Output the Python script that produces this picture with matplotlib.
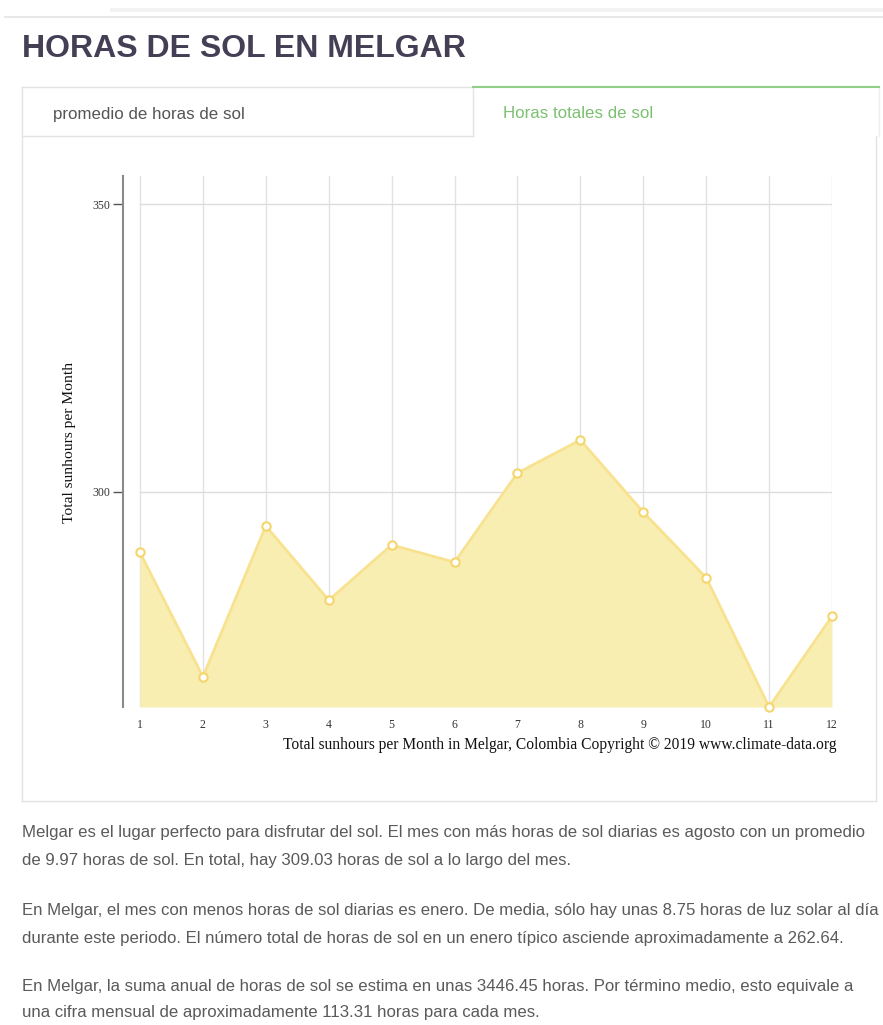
import matplotlib
matplotlib.use("Agg")
import matplotlib.pyplot as plt
from matplotlib.lines import Line2D
from matplotlib.patches import Rectangle

W, H = 883, 1025

months = list(range(1, 13))
sunhours = [289.5, 267.9, 294.1, 281.2, 290.8, 287.8, 303.3, 309.03, 296.5, 285.1, 262.64, 278.4]
y_ticks = [300, 350]
y_top = 354.9

title = "HORAS DE SOL EN MELGAR"
tab_left = "promedio de horas de sol"
tab_right = "Horas totales de sol"
y_label = "Total sunhours per Month"
x_label = "Total sunhours per Month in Melgar, Colombia Copyright \u00a9 2019 www.climate-data.org"
paragraphs = [
    "Melgar es el lugar perfecto para disfrutar del sol. El mes con más horas de sol diarias es agosto con un promedio",
    "de 9.97 horas de sol. En total, hay 309.03 horas de sol a lo largo del mes.",
    "En Melgar, el mes con menos horas de sol diarias es enero. De media, sólo hay unas 8.75 horas de luz solar al día",
    "durante este periodo. El número total de horas de sol en un enero típico asciende aproximadamente a 262.64.",
    "En Melgar, la suma anual de horas de sol se estima en unas 3446.45 horas. Por término medio, esto equivale a",
    "una cifra mensual de aproximadamente 113.31 horas para cada mes.",
]


def fx(x):
    return x / W


def fy(y):
    return 1 - y / H


fig = plt.figure(figsize=(W / 100, H / 100), dpi=100)
renderer = fig.canvas.get_renderer()


def fit_text(x, y, s, length, **kw):
    t = fig.text(fx(x), fy(y), s, **kw)
    box = t.get_window_extent(renderer)
    size = box.height if kw.get("rotation") == 90 else box.width
    t.set_fontsize(t.get_fontsize() * length / size)
    return t


def hline(x0, x1, y, color, lw=1.0):
    fig.add_artist(Line2D([fx(x0), fx(x1)], [fy(y), fy(y)], color=color, lw=lw,
                          transform=fig.transFigure))


def vline(x, y0, y1, color, lw=1.0):
    fig.add_artist(Line2D([fx(x), fx(x)], [fy(y0), fy(y1)], color=color, lw=lw,
                          transform=fig.transFigure))


# page decoration at the top
fig.add_artist(Rectangle((fx(110), fy(12)), fx(883) - fx(110), fy(8) - fy(12),
                         transform=fig.transFigure, color="#f2f2f2", lw=0))
hline(5, 883, 17, "#e8e8e8", 1.5)

fit_text(22, 49, title, 443, fontsize=20, fontweight="bold", color="#453f55",
         family="Liberation Sans", va="center")

# tab box
hline(22, 876, 801, "#e3e3e3")
vline(22, 87, 801, "#e3e3e3")
vline(876, 136, 801, "#e3e3e3")
vline(879, 87, 136, "#eeeeee")
hline(22, 473, 87, "#e3e3e3")
hline(22, 473, 136, "#e3e3e3")
vline(473, 87, 136, "#e3e3e3")
hline(473, 879, 87, "#8fcf86", 1.5)

fit_text(53, 114, tab_left, 190, fontsize=11, color="#555555",
         family="Liberation Sans", va="center")
fit_text(503, 114, tab_right, 148, fontsize=11, color="#7cc071",
         family="Liberation Sans", va="center")

# chart
ax = fig.add_axes([fx(123), fy(707), fx(832) - fx(123), fy(176) - fy(707)])
ymin = min(sunhours)
ax.set_xlim(1 - 17 / (692 / 11), 12)
ax.set_ylim(ymin, y_top)

for m in months:
    ax.axvline(m, color="#e2e2e2", lw=1, zorder=0)
for v in y_ticks:
    ax.plot([months[0], months[-1]], [v, v], color="#dddddd", lw=1, zorder=0)

ax.fill_between(months, sunhours, ymin, color="#f9eeb1", lw=0, zorder=1)
ax.plot(months, sunhours, color="#f8e28f", lw=2, zorder=2)
ax.plot(months, sunhours, "o", ms=6, mfc="white", mec="#f5d66c", mew=1.5,
        zorder=3, clip_on=False)

for side in ("top", "right", "bottom"):
    ax.spines[side].set_visible(False)
ax.spines["left"].set_color("#8a8a8a")
ax.spines["left"].set_linewidth(1.5)

ax.set_yticks(y_ticks)
ax.set_yticklabels([str(v) for v in y_ticks], family="Liberation Serif", fontsize=8.5,
                   color="#333333")
ax.tick_params(axis="y", length=7, width=1, color="#555555", pad=2)
ax.set_xticks(months)
ax.set_xticklabels([str(m) for m in months], family="Liberation Serif", fontsize=8.5,
                   color="#333333")
ax.tick_params(axis="x", length=0, pad=9)

fit_text(70, 442, y_label, 160, rotation=90, family="Liberation Serif", fontsize=10,
         color="#111111", ha="center", va="center")
fit_text(283, 745, x_label, 553, fontsize=10.5, family="Liberation Serif",
         color="#111111", va="center")

# text below the chart, one size for every line, fitted on the first one
line_y = [833, 860, 911, 938, 986, 1012]
first = fit_text(22, line_y[0], paragraphs[0], 845, fontsize=10, color="#5a5a5a",
                 family="Liberation Sans", va="center")
for y, s in zip(line_y[1:], paragraphs[1:]):
    fig.text(fx(22), fy(y), s, fontsize=first.get_fontsize(), color="#5a5a5a",
             family="Liberation Sans", va="center")

fig.savefig("out.png", dpi=100)
